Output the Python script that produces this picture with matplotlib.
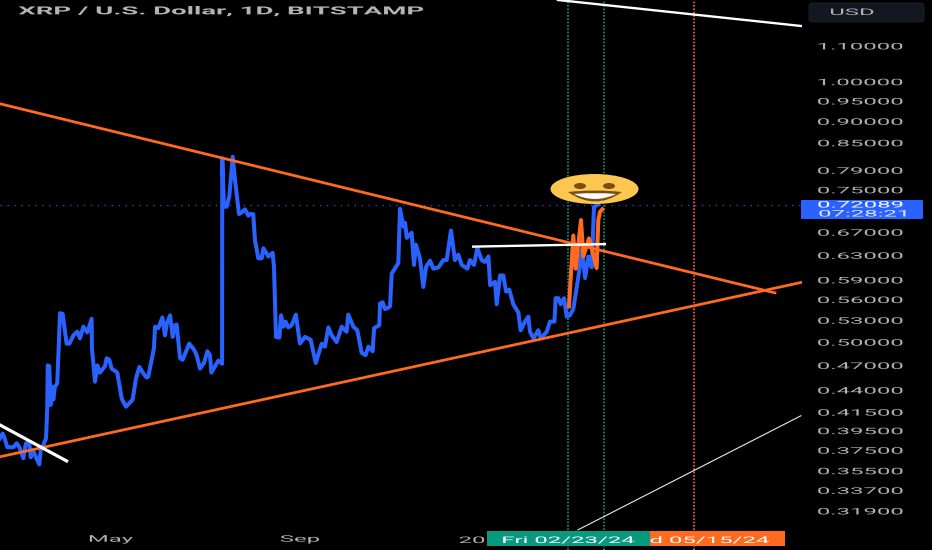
import numpy as np
import matplotlib
matplotlib.use("Agg")
import matplotlib.pyplot as plt
import matplotlib.patheffects as pe
from matplotlib.patches import Ellipse, FancyBboxPatch, PathPatch, Rectangle
from matplotlib.path import Path
from matplotlib.transforms import Affine2D

plt.rcParams["font.family"] = ["Roboto", "DejaVu Sans"]

# x is days since 2023-01-01, y is price in USD
days = [47.7, 49.4, 50.7, 52.5, 56.4, 58.6, 60.3, 62.9, 64.6, 66.8, 67.7, 69.4, 71.2, 73.3, 74.2, 75.9, 77.7, 78.5, 78.8,
        79.8, 80.7, 81.6, 82.4, 83.5, 85.0, 86.8, 88.5, 91.1, 92.9, 95.5, 98.1, 99.8, 102.0, 104.6, 107.4, 107.6, 109.6,
        111.1, 112.8, 116.1, 117.2, 118.9, 120.4, 124.1, 127.0, 129.8, 134.1, 136.3, 138.5, 141.1, 143.2, 144.3, 148.0,
        148.7, 150.9, 153.5, 155.2, 156.3, 158.5, 160.2, 161.7, 162.8, 165.0, 166.7, 171.0, 174.1, 175.8, 178.0, 180.6,
        182.8, 184.5, 185.4, 187.8, 189.9, 192.4, 192.5, 193.6, 195.4, 197.1, 199.3, 200.8, 203.4, 205.1, 207.3, 209.5,
        210.6, 212.7, 213.8, 216.0, 218.2, 219.3, 222.5, 225.3, 226.2, 227.5, 229.7, 230.8, 232.3, 233.8, 235.5, 237.7,
        240.5, 243.1, 246.4, 250.1, 253.4, 257.3, 259.4, 261.6, 263.8, 267.0, 270.3, 273.5, 274.6, 277.9, 280.5, 283.3,
        285.9, 287.7, 290.5, 291.4, 294.8, 295.3, 297.0, 298.5, 300.7, 301.8, 302.9, 307.2, 308.3, 310.5, 311.6, 312.7,
        315.9, 317.4, 318.7, 321.3, 323.5, 325.3, 327.9, 330.0, 333.3, 336.5, 338.7, 339.8, 341.5, 344.1, 346.3, 348.5,
        352.2, 353.9, 356.5, 358.7, 361.5, 363.7, 365.9, 367.0, 370.2, 371.3, 373.5, 375.6, 377.4, 379.5, 382.1, 385.4,
        386.9, 389.7, 391.9, 393.0, 395.2, 398.4, 400.0, 403.9, 406.0, 408.9, 409.7, 411.5, 413.0, 415.2, 416.9, 419.0,
        421.2, 424.5, 426.7, 428.9, 431.0, 433.2, 434.7, 437.5]
close = [.387, .392, .387, .378, .378, .382, .378, .367, .382, .382, .368, .374, .368, .361, .375, .380, .387, .420, .470,
         .469, .423, .444, .429, .444, .448, .540, .539, .498, .498, .509, .514, .505, .521, .513, .532, .492, .450,
         .470, .461, .469, .479, .477, .466, .461, .430, .421, .429, .454, .468, .460, .455, .456, .492,
         .521, .519, .534, .509, .525, .537, .507, .523, .524, .479, .477, .498, .490, .483, .466, .473,
         .488, .483, .461, .469, .476, .472, .816, .717, .717, .737, .819, .770, .703, .706, .712, .700,
         .703, .703, .656, .625, .625, .642, .628, .634, .611, .507, .506, .537, .521, .528, .520, .523,
         .538, .498, .507, .503, .473, .498, .494, .520, .509, .500, .521, .514, .538, .521, .516, .486,
         .483, .494, .488, .519, .523, .554, .556, .546, .548, .550, .600, .617, .713, .680, .687, .660,
         .669, .614, .648, .625, .579, .611, .621, .608, .610, .622, .622, .642, .673, .622, .631, .614,
         .608, .622, .614, .642, .622, .619, .628, .582, .587, .553, .597, .597, .572, .575, .553, .541,
         .516, .528, .535, .514, .505, .516, .505, .514, .528, .528, .562, .562, .553, .562, .535, .537,
         .546, .595, .639, .593, .628, .610, .717, .721]

path_days = [418.4, 421.2, 422.8, 426.2, 427.8, 431.4, 433.2, 436.4, 437.5, 438.6, 440.1]
path_price = [.550, .664, .608, .692, .628, .659, .642, .609, .692, .707, .712]

upper_days, upper_price = [47.7, 552.6], [.943, .570]
lower_days, lower_price = [47.7, 569.5], [.3685, .586]
white_top_days, white_top_price = [411.2, 569.5], [1.243, 1.160]
white_mid_days, white_mid_price = [356.0, 441.8], [.6447, .649]
white_low_days, white_low_price = [47.7, 91.1], [.401, .3644]
thin_days, thin_price = [424.2, 569.5], [.3033, .411]

green_days = [418, 441]
orange_days = [500]
last_price = 0.72089

price_ticks = [1.1, 1.0, .95, .9, .85, .79, .75, .67, .63, .59, .56, .53, .5, .47, .44, .415, .395, .375, .355, .337, .319]
month_ticks = [120, 243, 1]
month_names = ["May", "Sep", "20"]

BLUE = "#2962ff"
ORANGE = "#ff6a1f"
GREEN = "#089981"
GREY = "#b0b0b0"


class Stretch(pe.AbstractPathEffect):
    # the reference is a horizontally stretched screenshot, so widen the glyphs around their centre
    def __init__(self, sx):
        self.sx = sx

    def draw_path(self, renderer, gc, tpath, affine, rgbFace=None):
        e = tpath.get_extents()
        cx = (e.x0 + e.x1) / 2
        t = Affine2D().translate(-cx, 0).scale(self.sx, 1).translate(cx, 0) + affine
        renderer.draw_path(gc, tpath, t, rgbFace)


wide = [Stretch(2.65)]

fig = plt.figure(figsize=(9.32, 5.5), dpi=100, facecolor="black")
ax = fig.add_axes([0, 0, 802 / 932, 1], facecolor="black")
ax.set_yscale("log")
ax.set_xlim(47.7, 570.2)
ax.set_ylim(0.2875, 1.243)
for s in ax.spines.values():
    s.set_visible(False)

ax.axhline(last_price, color=BLUE, lw=1, ls=(0, (1, 4)), alpha=.8, zorder=1)
for d in green_days:
    ax.axvline(d, color=GREEN, lw=1.2, ls=(0, (1, 1)), zorder=1)
for d in orange_days:
    ax.axvline(d, color=ORANGE, lw=1.2, ls=(0, (1, 1)), zorder=1)

ax.plot(days, close, color=BLUE, lw=2.9, solid_joinstyle="round", zorder=3)
ax.plot(path_days, path_price, color=ORANGE, lw=2.9, zorder=4)
ax.plot(upper_days, upper_price, color=ORANGE, lw=2, zorder=5)
ax.plot(lower_days, lower_price, color=ORANGE, lw=2, zorder=5)
ax.plot(white_top_days, white_top_price, color="white", lw=1.7, zorder=6)
ax.plot(white_mid_days, white_mid_price, color="white", lw=1.7, zorder=6)
ax.plot(white_low_days, white_low_price, color="white", lw=2.3, zorder=6)
ax.plot(thin_days, thin_price, color="#e8e8e8", lw=.8, zorder=6)

ax.minorticks_off()
ax.set_yticks(price_ticks)
ax.set_yticklabels([f"{p:.5f}" for p in price_ticks], ha="center")
ax.tick_params(axis="y", which="both", right=True, left=False, labelright=True, labelleft=False,
               length=0, pad=42, labelsize=6.5, labelcolor=GREY)
ax.set_xticks(month_ticks[:2])
ax.set_xticklabels(month_names[:2])
ax.tick_params(axis="x", length=0, direction="in", pad=-11, labelsize=6.5, labelcolor=GREY)
for t in ax.get_yticklabels() + ax.get_xticklabels():
    t.set_path_effects(wide)

# overlay in image pixels for the pane furniture and the emoji
ov = fig.add_axes([0, 0, 1, 1], facecolor="none", zorder=10)
ov.set_xlim(0, 932)
ov.set_ylim(550, 0)
ov.axis("off")


def label(x, y, s, color=GREY, size=6.5, sx=2.65, **kw):
    t = ov.text(x, y, s, color=color, fontsize=size, ha="center", va="center", **kw)
    t.set_path_effects([Stretch(sx)])
    return t


label(221, 11.5, "XRP / U.S. Dollar, 1D, BITSTAMP", size=8, sx=2.48, fontweight="bold", color="#b4b4b4")
label(472, 540.5, month_names[2])

ov.add_patch(FancyBboxPatch((811, 5), 111, 15, boxstyle="round,pad=2,rounding_size=3", fc="#131722", ec="#1e222d", lw=.6))
label(852, 12.5, "USD")

ov.add_patch(FancyBboxPatch((802, 201), 120, 17, boxstyle="round,pad=1,rounding_size=1", fc=BLUE, ec="none"))
label(860.5, 205, "0.72089", color="white")
label(863, 214, "07:28:21", color="#dfe6ff")

ov.add_patch(Rectangle((650, 531), 135, 15, fc=ORANGE, ec="none"))
ov.add_patch(Rectangle((487, 531), 163, 15, fc=GREEN, ec="none"))
label(568.5, 540.5, "Fri 02/23/24", color="white")
label(709.5, 540.5, "d 05/15/24", color="white")

ov.add_patch(Ellipse((594.5, 189), 88, 30, fc="#fcc64f", ec="none"))
ov.add_patch(Ellipse((580, 186), 12, 6, fc="#7b4d14", ec="none"))
ov.add_patch(Ellipse((609, 186), 12, 6, fc="#7b4d14", ec="none"))
q = [Path.MOVETO, Path.CURVE3, Path.CURVE3, Path.CURVE3, Path.CURVE3]
mouth = Path([(568, 192), (595, 189), (622, 192), (595, 211), (568, 192)], q)
ov.add_patch(PathPatch(mouth, fc="#7b4d14", ec="none"))
teeth = Path([(574, 194), (595, 192), (616, 194), (595, 204), (574, 194)], q)
ov.add_patch(PathPatch(teeth, fc="white", ec="none"))

fig.savefig("out.png", dpi=100, facecolor="black")
